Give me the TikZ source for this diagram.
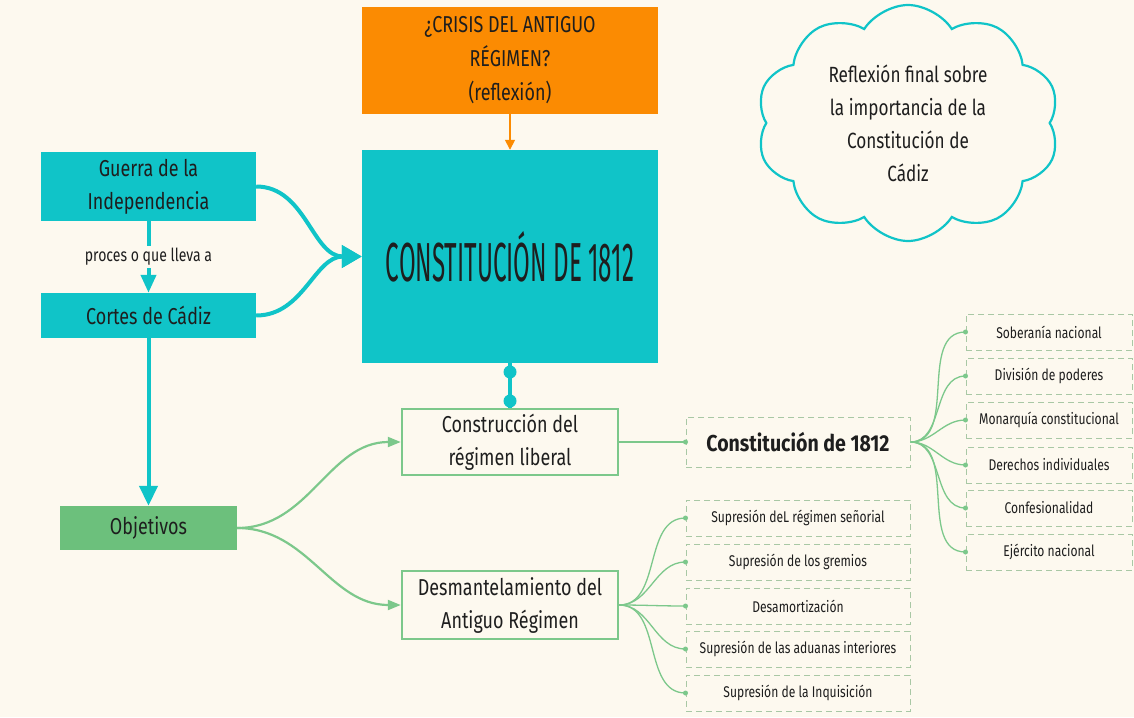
\documentclass[tikz,border=0pt]{standalone}
\usepackage{fontspec}
\setmainfont{Fira Sans}[FakeStretch=0.78]
\newfontfamily\titlefont{Fira Sans}[FakeStretch=0.44]
\newfontfamily\widefont{Fira Sans}[FakeStretch=0.85]
\usetikzlibrary{arrows.meta,shapes.symbols}
\definecolor{bg}{HTML}{FDF9EF}
\definecolor{tealc}{HTML}{10C4C8}
\definecolor{orng}{HTML}{FB8B02}
\definecolor{grnbox}{HTML}{6CC07C}
\definecolor{grnline}{HTML}{7CC88B}
\definecolor{dashc}{HTML}{A9C8A5}
\definecolor{txt}{HTML}{1E1E1E}
\tikzset{
  fbox/.style={inner sep=0pt, align=center, text=txt, font=\fontsize{23}{33}\selectfont},
  tealbox/.style={fbox, fill=tealc},
  gbox/.style={fbox, fill=bg, draw=grnline, line width=2.5pt},
  dbox/.style={inner sep=0pt, align=center, text=txt, draw=dashc, line width=1pt,
     dash pattern=on 6pt off 4pt, font=\fontsize{15.5}{18}\selectfont, minimum height=36pt},
  tealarrow/.style={draw=tealc, line width=4pt},
  gcurve/.style={draw=grnline, line width=2.2pt},
  fcurve/.style={draw=grnline, line width=1.3pt},
}
\begin{document}
\begin{tikzpicture}[x=1pt,y=-1pt]
\useasboundingbox (0,0) rectangle (1134,717);
\fill[bg] (0,0) rectangle (1134,717);

% top orange box
\node[fbox, fill=orng, minimum width=296pt, minimum height=107pt, font=\fontsize{23}{34}\selectfont] (crisis) at (510,60.5)
  {¿CRISIS DEL ANTIGUO\\RÉGIMEN?\\(reflexión)};
% big teal box
\node[tealbox, minimum width=296pt, minimum height=213pt, font=\titlefont\fontsize{55}{60}\selectfont] (const) at (510,256.5)
  {CONSTITUCIÓN DE 1812};
\draw[orng, line width=1.6pt, -{Triangle[length=10pt,width=10pt]}] (crisis.south) -- (const.north);

% left boxes
\node[tealbox, minimum width=215pt, minimum height=69pt] (guerra) at (148.5,186.5)
  {Guerra de la\\Independencia};
\node[tealbox, minimum width=215pt, minimum height=45pt] (cortes) at (148.5,315.5)
  {Cortes de Cádiz};
\node[fbox, fill=grnbox, minimum width=177pt, minimum height=44pt] (obj) at (148.5,528)
  {Objetivos};

\draw[tealarrow, -{Triangle[length=18pt,width=15pt]}] (guerra.south) -- (cortes.north)
  node[midway, fill=bg, inner sep=2pt, text=txt, font=\fontsize{18}{20}\selectfont] (lbl) {proces o que lleva a};
\draw[tealarrow, -{Triangle[length=20pt,width=22pt]}] (guerra.east) to[out=0,in=180] (const.west);
\draw[tealarrow, -{Triangle[length=20pt,width=22pt]}] (cortes.east) to[out=0,in=180] (const.west);
\draw[tealarrow, -{Triangle[length=20pt,width=18pt]}] (cortes.south) -- (obj.north);

% green boxes
\node[gbox, minimum width=216pt, minimum height=66pt] (constr) at (510,442)
  {Construcción del\\régimen liberal};
\node[gbox, minimum width=216pt, minimum height=68pt] (desm) at (510,605)
  {Desmantelamiento del\\Antiguo Régimen};

% teal dotted connector
\coordinate (d1) at (510,372);
\coordinate (d2) at (510,401);
\draw[tealc, line width=4pt] (const.south) -- (constr.north);
\fill[tealc] (d1) circle (6.5pt);
\fill[tealc] (d2) circle (6.5pt);

\draw[gcurve, -{Triangle[length=13pt,width=10pt]}] (obj.east) to[out=0,in=180] (constr.west);
\draw[gcurve, -{Triangle[length=13pt,width=10pt]}] (obj.east) to[out=0,in=180] (desm.west);

% Constitucion de 1812 dashed
\node[dbox, minimum width=224pt, minimum height=50pt, font=\widefont\bfseries\fontsize{23}{26}\selectfont] (c1812) at (798,442)
  {Constitución de 1812};
\draw[fcurve] (constr.east) -- (c1812.west);
\fill[grnline] (c1812.west) circle (2.5pt);

\foreach \n/\t/\y in {r1/Soberanía nacional/332, r2/División de poderes/376,
   r3/Monarquía constitucional/420, r4/Derechos individuales/465,
   r5/Confesionalidad/508, r6/Ejército nacional/552} {
  \node[dbox, minimum width=166pt] (\n) at (1049,\y) {\t};
  \draw[fcurve] (c1812.east) to[out=0,in=180] (\n.west);
  \fill[grnline] (\n.west) circle (2.5pt);
}

\foreach \n/\t/\y in {l1/Supresión deL régimen señorial/518, l2/Supresión de los gremios/562,
   l3/Desamortización/606, l4/Supresión de las aduanas interiores/649,
   l5/Supresión de la Inquisición/693} {
  \node[dbox, minimum width=224pt] (\n) at (798,\y) {\t};
  \draw[fcurve] (desm.east) to[out=0,in=180] (\n.west);
  \fill[grnline] (\n.west) circle (2.5pt);
}

% cloud
\node[cloud, cloud puffs=10, cloud puff arc=115, aspect=1.28, draw=tealc, line width=2.2pt,
  minimum width=303pt, minimum height=236pt, inner sep=0pt, align=center, text=txt,
  font=\fontsize{22}{33}\selectfont] (cloud) at (908,123)
  {Reflexión final sobre\\la importancia de la\\Constitución de\\Cádiz};
\end{tikzpicture}
\end{document}
